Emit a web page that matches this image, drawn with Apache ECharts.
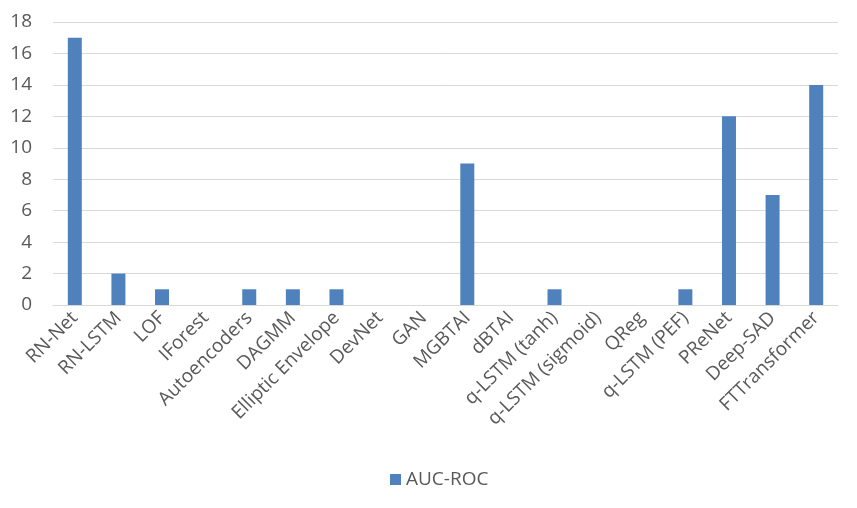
<!DOCTYPE html>
<html><head><meta charset="utf-8">
<script src="https://cdn.jsdelivr.net/npm/echarts@6/dist/echarts.min.js"></script>
<style>html,body{margin:0;padding:0;background:#fff}#c{width:857px;height:508px}</style>
</head><body><div id="c"></div>
<script>
const categories = ["RN-Net","RN-LSTM","LOF","IForest","Autoencoders","DAGMM","Elliptic Envelope","DevNet","GAN","MGBTAI","dBTAI","q-LSTM (tanh)","q-LSTM (sigmoid)","QReg","q-LSTM (PEF)","PReNet","Deep-SAD","FTTransformer"];
const aucRoc = [17,2,1,0,1,1,1,0,0,9,0,1,0,0,1,12,7,14];
const seriesName = "AUC-ROC";
const yTicks = {min:0, max:18, interval:2};

const chart = echarts.init(document.getElementById('c'), null, {renderer:'canvas'});
const font = "'Open Sans', 'Noto Sans', sans-serif";
chart.setOption({
  animation:false,
  backgroundColor:'#fff',
  textStyle:{fontFamily:font},
  grid:{left:53, right:19, top:22, bottom:203, containLabel:false},
  legend:{bottom:14, left:385, itemWidth:11, itemHeight:11, icon:'rect', itemGap:6,
    textStyle:{fontSize:19, color:'#595959', fontFamily:font}, data:[seriesName]},
  xAxis:{type:'category', data:categories,
    axisLine:{lineStyle:{color:'#d9d9d9', width:1}}, axisTick:{show:false},
    axisLabel:{interval:0, rotate:45, fontSize:19, color:'#595959', margin:10, fontFamily:font}},
  yAxis:{type:'value', min:yTicks.min, max:yTicks.max, interval:yTicks.interval,
    axisLine:{show:false}, axisTick:{show:false},
    splitLine:{lineStyle:{color:'#d9d9d9', width:1}},
    axisLabel:{fontSize:19, color:'#595959', margin:21, fontFamily:font}},
  series:[{name:seriesName, type:'bar', data:aucRoc, barWidth:14,
    itemStyle:{color:'#4F81BD'}}]
});
</script></body></html>
